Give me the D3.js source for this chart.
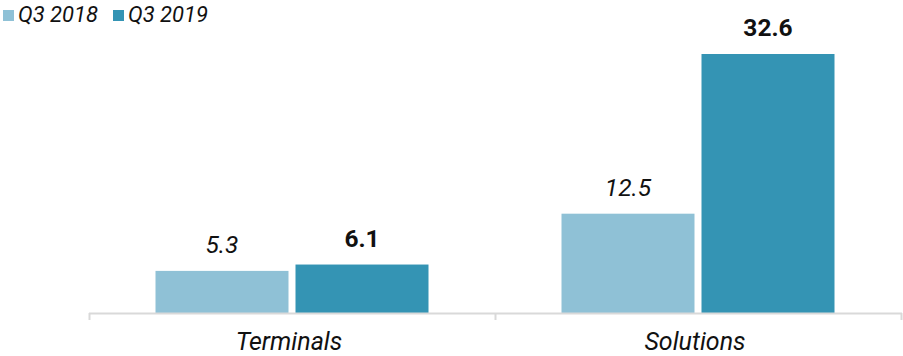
<!DOCTYPE html>
<html><head><meta charset="utf-8">
<script src="https://cdn.jsdelivr.net/npm/d3@7"></script>
<style>body{margin:0;background:#fff}svg{display:block;font-family:Roboto,sans-serif}</style>
</head><body><svg id="c" width="903" height="356"></svg>
<script>
const categories = ["Terminals", "Solutions"];
const seriesNames = ["Q3 2018", "Q3 2019"];
const q3_2018 = [5.3, 12.5];
const q3_2019 = [6.1, 32.6];
const colors = ["#8fc1d6", "#3494b4"];

const svg = d3.select("#c");
const baseY = 313, x0 = 89, x1 = 901;
const x = d3.scaleBand().domain(categories).range([x0, x1]).paddingInner(0).paddingOuter(0);
const y = d3.scaleLinear().domain([0, 32.6]).range([baseY, 54]);
const groupW = 273;
const sub = d3.scaleBand().domain(seriesNames)
  .range([(x.bandwidth() - groupW) / 2, (x.bandwidth() + groupW) / 2]).paddingInner(0.05).paddingOuter(0);

const data = categories.map((c, i) => ({c, vals: [q3_2018[i], q3_2019[i]]}));

const g = svg.selectAll("g.cat").data(data).join("g").attr("transform", d => `translate(${x(d.c)},0)`);
g.selectAll("rect").data(d => d.vals.map((v, j) => ({v, s: seriesNames[j], j})))
  .join("rect")
  .attr("x", d => sub(d.s)).attr("width", sub.bandwidth())
  .attr("y", d => y(d.v)).attr("height", d => baseY - y(d.v))
  .attr("fill", d => colors[d.j]);
g.selectAll("text.val").data(d => d.vals.map((v, j) => ({v, s: seriesNames[j], j})))
  .join("text").attr("class", "val")
  .attr("x", d => sub(d.s) + sub.bandwidth() / 2)
  .attr("y", d => y(d.v) - 18)
  .attr("text-anchor", "middle")
  .attr("font-size", 24.5)
  .attr("font-style", d => d.j === 0 ? "italic" : "normal")
  .attr("font-weight", d => d.j === 0 ? "normal" : "bold")
  .attr("fill", "#111")
  .text(d => d.v.toFixed(1));

// axis
svg.append("line").attr("x1", x0).attr("x2", x1 + 1).attr("y1", baseY + 0.5).attr("y2", baseY + 0.5)
  .attr("stroke", "#d9d9d9").attr("stroke-width", 2);
const tickXs = [x0].concat(categories.map(c => x(c) + x.bandwidth()));
svg.selectAll("line.tk").data(tickXs).join("line").attr("class", "tk")
  .attr("x1", d => Math.round(d) + 0.5).attr("x2", d => Math.round(d) + 0.5)
  .attr("y1", baseY).attr("y2", baseY + 7)
  .attr("stroke", "#d9d9d9").attr("stroke-width", 2);
svg.selectAll("text.cat").data(categories).join("text").attr("class", "cat")
  .attr("x", d => x(d) + x.bandwidth() / 2 - 3).attr("y", 350)
  .attr("text-anchor", "middle").attr("font-size", 25).attr("font-style", "italic")
  .attr("fill", "#111").text(d => d);

// legend
const legX = [3, 113];
const lg = svg.selectAll("g.leg").data(seriesNames).join("g").attr("class", "leg")
  .attr("transform", (d, i) => `translate(${legX[i]},0)`);
lg.append("rect").attr("x", 0).attr("y", 10).attr("width", 11).attr("height", 11).attr("fill", (d, i) => colors[i]);
lg.append("text").attr("x", 15).attr("y", 22).attr("font-size", 22).attr("font-style", "italic")
  .attr("fill", "#111").text(d => d);
</script></body></html>
